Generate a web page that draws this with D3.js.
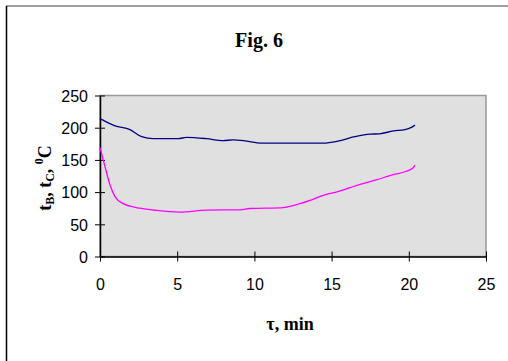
<!DOCTYPE html>
<html>
<head>
<meta charset="utf-8">
<script src="https://cdn.jsdelivr.net/npm/d3@7"></script>
<style>
body { margin: 0; background: #fff; }
</style>
</head>
<body>
<script>
// chart size
var w = 508;
var h = 361;

// data
var timeB = [0, 0.97, 1.94, 2.7, 3.45, 5.07, 5.6, 6.9, 7.99, 8.6, 9.3, 10.47, 14.46, 15.4, 16.5, 17.5, 18.1, 19, 19.75, 20.2, 20.4];
var tempB = [214, 203, 197, 186, 183, 183, 185, 183, 180, 181, 180, 176, 176, 179, 186, 190, 190.5, 195, 197, 201, 204];
var timeC = [0, 0.32, 0.65, 0.97, 1.51, 2.59, 3.67, 5.18, 6.9, 9.07, 9.7, 11.87, 12.5, 13.6, 14.46, 15.3, 16.6, 17.9, 19, 19.8, 20.25, 20.4];
var tempC = [169, 140, 111, 93, 82, 75, 71.5, 69, 72, 72.5, 74.5, 76, 79, 87, 95, 100, 110, 119, 127, 132, 137, 142];
var xTicks = [0, 5, 10, 15, 20, 25];
var yTicks = [0, 50, 100, 150, 200, 250];

var svg = d3.select("body")
            .append("svg")
            .attr("width", w)
            .attr("height", h);

// outer frame (left + top only show)
svg.append("line").attr("x1", 6).attr("y1", 6).attr("x2", w).attr("y2", 6)
   .attr("stroke", "#808080").attr("stroke-width", 1.5);
svg.append("line").attr("x1", 6.5).attr("y1", 6).attr("x2", 6.5).attr("y2", h)
   .attr("stroke", "#000").attr("stroke-width", 1.5);

var x = d3.scaleLinear().domain([0, 25]).range([100, 486]);
var y = d3.scaleLinear().domain([0, 250]).range([256.5, 95.5]);

// plot area
svg.append("rect")
   .attr("x", x(0)).attr("y", y(250))
   .attr("width", x(25) - x(0)).attr("height", y(0) - y(250))
   .attr("fill", "#e0e0e0")
   .attr("stroke", "#999").attr("stroke-width", 1.5);

var xAxis = svg.append("g")
   .attr("transform", "translate(0," + y(0) + ")")
   .call(d3.axisBottom(x).tickValues(xTicks).tickSizeInner(5).tickSizeOuter(0).tickPadding(17));
xAxis.selectAll(".tick line").attr("y1", -5);

var yAxis = svg.append("g")
   .attr("transform", "translate(" + x(0) + ",0)")
   .call(d3.axisLeft(y).tickValues(yTicks).tickSizeInner(5).tickSizeOuter(0).tickPadding(7));
yAxis.selectAll(".tick line").attr("x1", 5);

svg.selectAll(".domain").attr("stroke", "#000").attr("stroke-width", 1.5);
svg.selectAll(".tick line").attr("stroke", "#000").attr("stroke-width", 1);
svg.selectAll(".tick text")
   .attr("font-family", "Liberation Sans, Arial, sans-serif")
   .attr("font-size", "16px")
   .attr("fill", "#000");
yAxis.selectAll(".tick text").attr("dy", "0.36em");

var line = d3.line()
   .x(function(d) { return x(d[0]); })
   .y(function(d) { return y(d[1]); })
   .curve(d3.curveMonotoneX);

svg.append("path")
   .datum(d3.zip(timeB, tempB))
   .attr("d", line)
   .attr("fill", "none")
   .attr("stroke", "#000080")
   .attr("stroke-width", 1.3);

svg.append("path")
   .datum(d3.zip(timeC, tempC))
   .attr("d", line)
   .attr("fill", "none")
   .attr("stroke", "#ff00ff")
   .attr("stroke-width", 1.3);

// title
svg.append("text")
   .attr("x", 259).attr("y", 47)
   .attr("text-anchor", "middle")
   .attr("font-family", "Liberation Serif, Times New Roman, serif")
   .attr("font-weight", "bold")
   .attr("font-size", "20px")
   .text("Fig. 6");

// x axis title
svg.append("text")
   .attr("x", 290).attr("y", 330)
   .attr("text-anchor", "middle")
   .attr("font-family", "Liberation Serif, Times New Roman, serif")
   .attr("font-weight", "bold")
   .attr("font-size", "18px")
   .text("τ, min");

// y axis title
var yt = svg.append("text")
   .attr("transform", "translate(51,178) rotate(-90)")
   .attr("text-anchor", "middle")
   .attr("font-family", "Liberation Serif, Times New Roman, serif")
   .attr("font-weight", "bold")
   .attr("font-size", "18px");
yt.append("tspan").text("t");
yt.append("tspan").attr("font-size", "12px").attr("dy", 3).text("B");
yt.append("tspan").attr("dy", -3).text(", t");
yt.append("tspan").attr("font-size", "12px").attr("dy", 3).text("C");
yt.append("tspan").attr("dy", -3).text(", ");
yt.append("tspan").attr("font-size", "12px").attr("dy", -8).text("0");
yt.append("tspan").attr("dy", 8).text("C");
</script>
</body>
</html>
